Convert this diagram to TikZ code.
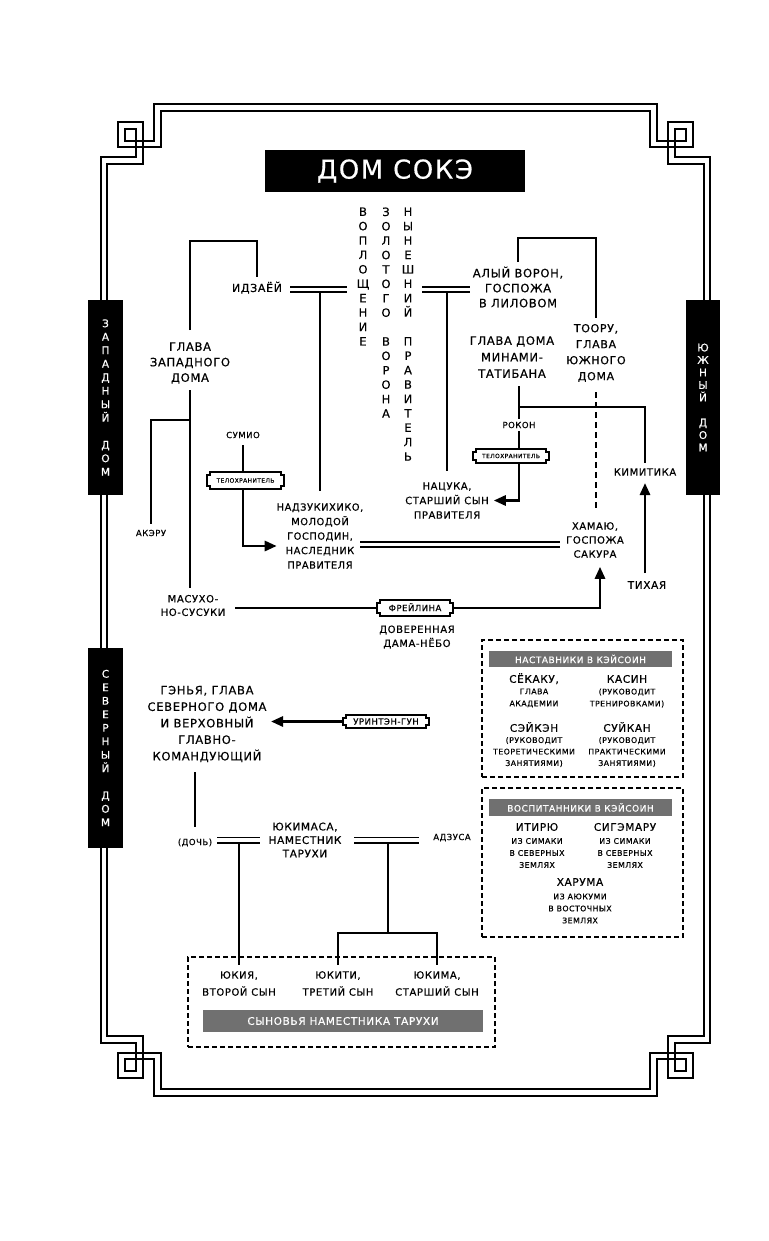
\documentclass[tikz,border=0pt]{standalone}
\usepackage{fontspec}
\setmainfont{DejaVu Sans}[LetterSpace=6,FakeBold=0.5]
\usetikzlibrary{arrows.meta,calc}
\definecolor{barg}{RGB}{112,112,112}
\begin{document}
\begin{tikzpicture}[x=1pt,y=-1pt,
 every node/.style={inner sep=0pt,outer sep=0pt},
 txt/.style={font=\fontsize{11}{15.5}\selectfont,align=center},
 one/.style={text height=7.9pt,text depth=0pt},
 sm/.style={font=\fontsize{8.5}{10}\selectfont,text height=6.2pt,text depth=0pt},
 colv/.style={font=\fontsize{11.5}{14.4}\selectfont,align=center},
 sidebar/.style={fill=black,text=white,font=\fontsize{10.5}{13.5}\selectfont,align=center},
 tbox/.style={fill=white,font=\fontsize{6}{6}\selectfont,text height=4.3pt,text depth=0pt},
 fbox/.style={fill=white,font=\fontsize{8.5}{9}\selectfont,text height=6.2pt,text depth=0pt},
 conn/.style={line width=2.8pt},
 arr/.style={line width=2.8pt,-{Triangle[length=12pt,width=10pt]}},
 dl/.style={double,line width=1.9pt,double distance=3.2pt},
 frameline/.style={line width=1.4pt},
 dbox/.style={draw,line width=1.9pt,dash pattern=on 5pt off 3pt},
 gbar/.style={fill=barg,text=white},
 pname/.style={font=\fontsize{10.5}{11}\selectfont,text height=7.6pt,text depth=0pt},
 pdesc/.style={font=\fontsize{7.8}{12}\selectfont,align=center},
 notch/.style={line width=1.2pt}
]
\useasboundingbox (0,0) rectangle (768,1241);
\fill[white] (0,0) rectangle (768,1241);

% ---- frame ----
\draw[frameline] (101,1043) -- (101,157) -- (136,157) -- (136,129) -- (125,129) -- (125,141) -- (154,141) -- (154,104) -- (657,104) -- (657,141) -- (686,141) -- (686,129) -- (675,129) -- (675,157) -- (710,157) -- (710,1043) -- (675,1043) -- (675,1071) -- (686,1071) -- (686,1059) -- (657,1059) -- (657,1096) -- (154,1096) -- (154,1059) -- (125,1059) -- (125,1071) -- (136,1071) -- (136,1043) -- cycle;
\draw[frameline] (107,1036) -- (107,164) -- (143,164) -- (143,122) -- (118,122) -- (118,147) -- (161,147) -- (161,111) -- (650,111) -- (650,147) -- (693,147) -- (693,122) -- (668,122) -- (668,164) -- (704,164) -- (704,1036) -- (668,1036) -- (668,1078) -- (693,1078) -- (693,1053) -- (650,1053) -- (650,1089) -- (161,1089) -- (161,1053) -- (118,1053) -- (118,1078) -- (143,1078) -- (143,1036) -- cycle;

% ---- side bars ----
\node[sidebar,minimum width=35pt,minimum height=195pt] (wbar) at (105.5,397.5) {З\\А\\П\\А\\Д\\Н\\Ы\\Й\\[13.5pt]Д\\О\\М};
\node[sidebar,minimum width=35pt,minimum height=200pt] (nobar) at (105.5,748) {С\\Е\\В\\Е\\Р\\Н\\Ы\\Й\\[13.5pt]Д\\О\\М};
\node[sidebar,font=\fontsize{10.5}{12.5}\selectfont,minimum width=34pt,minimum height=195pt] (sbar) at (703,397.5) {Ю\\Ж\\Н\\Ы\\Й\\[12.5pt]Д\\О\\М};

% ---- title ----
\node[fill=black,text=white,minimum width=260pt,minimum height=42pt,font=\fontsize{26}{30}\selectfont] (title) at (395,171) {ДОМ СОКЭ};

% ---- vertical columns ----
\node[colv,anchor=north] (c1) at (363,207.5) {В\\О\\П\\Л\\О\\Щ\\Е\\Н\\И\\Е};
\node[colv,anchor=north] (c2) at (386,207.5) {З\\О\\Л\\О\\Т\\О\\Г\\О\\[14.4pt]В\\О\\Р\\О\\Н\\А};
\node[colv,anchor=north] (c3) at (408,207.5) {Н\\Ы\\Н\\Е\\Ш\\Н\\И\\Й\\[14.4pt]П\\Р\\А\\В\\И\\Т\\Е\\Л\\Ь};

% ---- people ----
\node[txt,one] (idz) at (257,288) {ИДЗАЁЙ};
\node[txt,font=\fontsize{11.5}{15}\selectfont] (alyi) at (518,287) {АЛЫЙ ВОРОН,\\ГОСПОЖА\\В ЛИЛОВОМ};
\node[txt,font=\fontsize{11.5}{15.5}\selectfont] (glzap) at (190,363) {ГЛАВА\\ЗАПАДНОГО\\ДОМА};
\node[txt,font=\fontsize{11}{16}\selectfont] (toor) at (596,353) {ТООРУ,\\ГЛАВА\\ЮЖНОГО\\ДОМА};
\node[txt,font=\fontsize{11.5}{16.5}\selectfont] (mina) at (512,357) {ГЛАВА ДОМА\\МИНАМИ-\\ТАТИБАНА};
\node[sm] (rokon) at (519,425) {РОКОН};
\node[tbox,minimum width=76pt,minimum height=14pt] (tel2) at (511,456) {ТЕЛОХРАНИТЕЛЬ};
\node[txt,one,font=\fontsize{10}{12}\selectfont,text height=7.3pt] (kimi) at (645,472) {КИМИТИКА};
\node[txt,font=\fontsize{10}{14}\selectfont] (hama) at (595,540) {ХАМАЮ,\\ГОСПОЖА\\САКУРА};
\node[txt,one,font=\fontsize{10.5}{12}\selectfont,text height=7.6pt] (tihaya) at (647,585) {ТИХАЯ};
\node[txt,font=\fontsize{9.8}{14.5}\selectfont] (nadz) at (320,536) {НАДЗУКИХИКО,\\МОЛОДОЙ\\ГОСПОДИН,\\НАСЛЕДНИК\\ПРАВИТЕЛЯ};
\node[txt,font=\fontsize{10}{14.5}\selectfont] (natsu) at (447,500.5) {НАЦУКА,\\СТАРШИЙ СЫН\\ПРАВИТЕЛЯ};
\node[sm] (sumio) at (243,435) {СУМИО};
\node[tbox,minimum width=77pt,minimum height=17pt] (tel1) at (245.5,480.5) {ТЕЛОХРАНИТЕЛЬ};
\node[sm] (akeru) at (151,533) {АКЭРУ};
\node[txt,font=\fontsize{10}{13.5}\selectfont] (masu) at (193,605.5) {МАСУХО-\\НО-СУСУКИ};
\node[fbox,minimum width=76pt,minimum height=16pt] (frei) at (415,608) {ФРЕЙЛИНА};
\node[txt,font=\fontsize{10}{14}\selectfont] (dover) at (417,637) {ДОВЕРЕННАЯ\\ДАМА-НЁБО};
\node[txt,font=\fontsize{11.5}{16.5}\selectfont] (genya) at (207,724) {ГЭНЬЯ, ГЛАВА\\СЕВЕРНОГО ДОМА\\И ВЕРХОВНЫЙ\\ГЛАВНО-\\КОМАНДУЮЩИЙ};
\node[fbox,minimum width=86pt,minimum height=13pt] (urin) at (386,721.5) {УРИНТЭН-ГУН};
\node[sm] (doch) at (195,842) {(ДОЧЬ)};
\node[txt,font=\fontsize{10.5}{13.5}\selectfont] (yukimasa) at (305,840) {ЮКИМАСА,\\НАМЕСТНИК\\ТАРУХИ};
\node[sm] (adzusa) at (452,837) {АДЗУСА};

% ---- sons box ----
\node[dbox,minimum width=307pt,minimum height=90pt] (sonsbox) at (341.5,1002) {};
\node[txt,font=\fontsize{10}{17}\selectfont] (yukiya) at (239,983.5) {ЮКИЯ,\\ВТОРОЙ СЫН};
\node[txt,font=\fontsize{10}{17}\selectfont] (yukiti) at (338,983.5) {ЮКИТИ,\\ТРЕТИЙ СЫН};
\node[txt,font=\fontsize{10}{17}\selectfont] (yukima) at (437,983.5) {ЮКИМА,\\СТАРШИЙ СЫН};
\node[gbar,minimum width=280pt,minimum height=22pt,font=\fontsize{10.5}{12}\selectfont] (sonsbar) at (343,1021) {СЫНОВЬЯ НАМЕСТНИКА ТАРУХИ};

% ---- mentors box ----
\node[dbox,minimum width=201pt,minimum height=137pt] (mentbox) at (582.5,708.5) {};
\node[gbar,minimum width=183pt,minimum height=16pt,font=\fontsize{9}{10}\selectfont] (mentbar) at (580.5,659) {НАСТАВНИКИ В КЭЙСОИН};
\node[pname] (sek) at (534,679) {СЁКАКУ,};
\node[pdesc] (sekd) at (534,698) {ГЛАВА\\АКАДЕМИИ};
\node[pname] (kas) at (627,679) {КАСИН};
\node[pdesc] (kasd) at (627,698) {(РУКОВОДИТ\\ТРЕНИРОВКАМИ)};
\node[pname] (sei) at (534,728) {СЭЙКЭН};
\node[pdesc,font=\fontsize{7.8}{11.5}\selectfont] (seid) at (534,752) {(РУКОВОДИТ\\ТЕОРЕТИЧЕСКИМИ\\ЗАНЯТИЯМИ)};
\node[pname] (sui) at (627,728) {СУЙКАН};
\node[pdesc,font=\fontsize{7.8}{11.5}\selectfont] (suid) at (627,752) {(РУКОВОДИТ\\ПРАКТИЧЕСКИМИ\\ЗАНЯТИЯМИ)};

% ---- pupils box ----
\node[dbox,minimum width=201pt,minimum height=149pt] (pupbox) at (582.5,862.5) {};
\node[gbar,minimum width=183pt,minimum height=17pt,font=\fontsize{9}{10}\selectfont] (pupbar) at (580.5,807.5) {ВОСПИТАННИКИ В КЭЙСОИН};
\node[pname] (iti) at (537,827) {ИТИРЮ};
\node[pdesc] (itid) at (537,853) {ИЗ СИМАКИ\\В СЕВЕРНЫХ\\ЗЕМЛЯХ};
\node[pname] (sig) at (625,827) {СИГЭМАРУ};
\node[pdesc] (sigd) at (625,853) {ИЗ СИМАКИ\\В СЕВЕРНЫХ\\ЗЕМЛЯХ};
\node[pname] (har) at (580,882) {ХАРУМА};
\node[pdesc] (hard) at (580,908.5) {ИЗ АЮКУМИ\\В ВОСТОЧНЫХ\\ЗЕМЛЯХ};

% ---- notched label boxes ----
\foreach \n in {tel1,tel2,frei,urin}{
 \draw[notch] ($(\n.north west)+(3,0)$) -- ($(\n.north east)+(-3,0)$) -- ++(0,3) -- ++(3,0) -- ($(\n.south east)+(0,-3)$) -- ++(-3,0) -- ++(0,3) -- ($(\n.south west)+(3,0)$) -- ++(0,-3) -- ++(-3,0) -- ($(\n.north west)+(0,3)$) -- ++(3,0) -- cycle;
}

% ---- connectors ----
\draw[conn] (glzap.north |- 0,330) -- (glzap.north |- 0,241) -| (idz.north |- 0,277);
\draw[conn] (nadz.north |- 0,289.5) -- (nadz.north |- 0,491);
\draw[dl] (290,289.5) -- (347,289.5);
\draw[conn] (natsu.north |- 0,289.5) -- (natsu.north |- 0,471);
\draw[dl] (422,289.5) -- (470,289.5);
\draw[conn] (alyi.north |- 0,262) -- (alyi.north |- 0,238) -| (toor.north |- 0,318);
\draw[conn,dash pattern=on 6pt off 4pt] (toor.south |- 0,392) -- (toor.south |- 0,508);
\draw[conn] (rokon.north |- 0,386) -- (rokon.north |- 0,419);
\draw[conn] (rokon.north |- 0,407) -| (kimi.north |- 0,463);
\draw[conn] (rokon.south |- 0,431) -- (rokon.south |- tel2.north);
\draw[arr] (rokon.south |- tel2.south) |- ([xshift=5pt]natsu.east);
\draw[arr] (kimi.south |- 0,573) -- (kimi.south |- 0,483);
\draw[arr,shorten >=9pt] (frei.east) -| ([xshift=5pt]hama.south);
\draw[conn] (235,608) -- (frei.west);
\draw[conn] (glzap.south |- 0,390) -- (glzap.south |- 0,588);
\draw[conn] (glzap.south |- 0,420) -| (akeru.north |- 0,524);
\draw[conn] (sumio.south |- 0,445) -- (sumio.south |- tel1.north);
\draw[arr] (sumio.south |- tel1.south) |- (nadz.west |- 0,546);
\draw[dl] (360,544.5) -- (560,544.5);
\draw[arr] (urin.west) -- (urin.west -| 271,0);
\draw[conn] (doch.north |- 0,772) -- (doch.north |- 0,827);
\draw[conn] (yukiya.north |- 0,840) -- (yukiya.north |- 0,965);
\draw[dl] (217,840) -- (260,840);
\draw[conn] (388,840) -- (388,933);
\draw[conn] (yukiti.north |- 0,965) |- (yukima.north |- 0,933) -- (yukima.north |- 0,965);
\draw[dl] (354,840) -- (419,840);
\end{tikzpicture}
\end{document}
